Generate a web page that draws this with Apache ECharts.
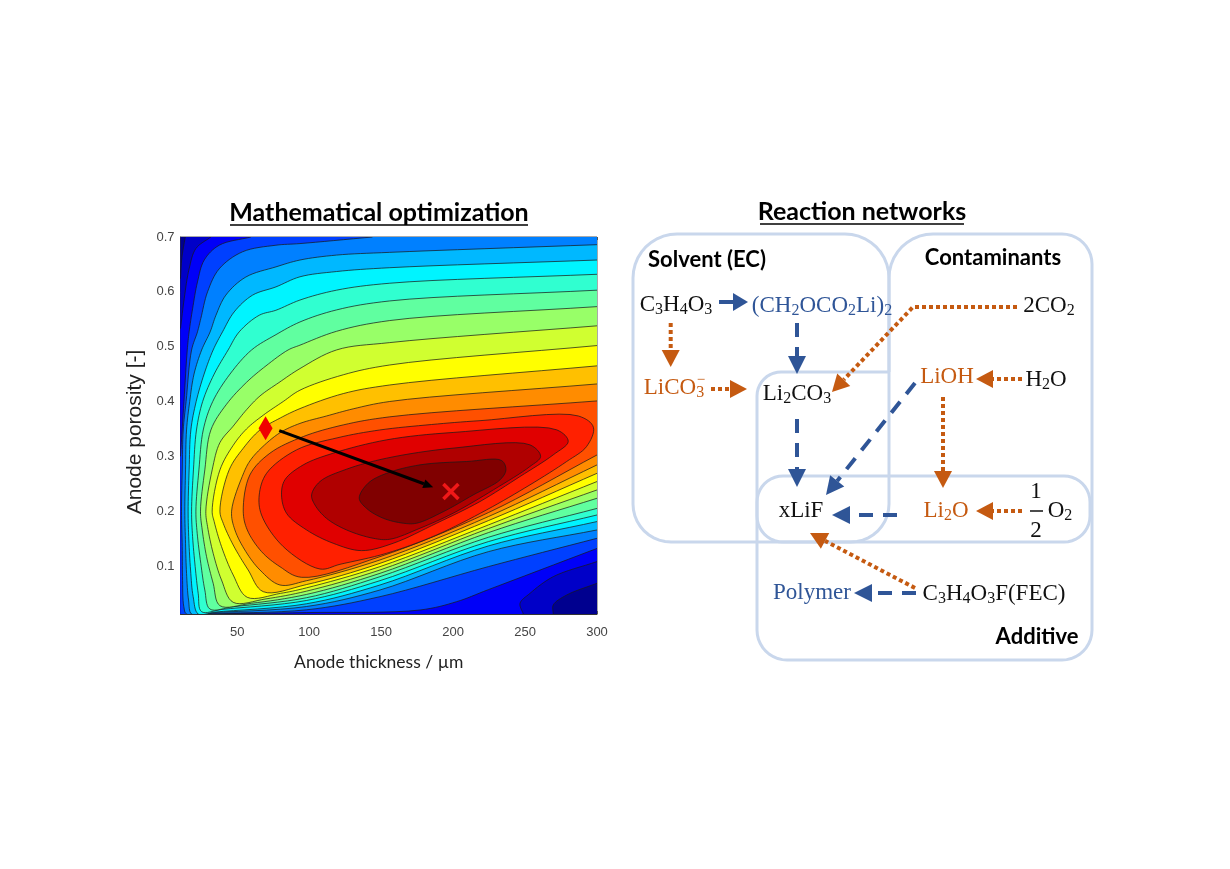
<!DOCTYPE html>
<html><head><meta charset="utf-8">
<style>html,body{margin:0;padding:0;background:#fff}#c{width:1230px;height:869px}</style>
<script src="https://cdn.jsdelivr.net/npm/echarts@6/dist/echarts.min.js"></script>
</head><body><div id="c"></div>
<script>
// ---------- contour plot data: anode thickness (um), anode porosity (-) ----------
const xMin = 10.6, xMax = 300, yMin = 0.0124, yMax = 0.7;
const xTicks = [50, 100, 150, 200, 250, 300];
const yTicks = [0.1, 0.2, 0.3, 0.4, 0.5, 0.6, 0.7];
const bandColors = ['#00008f','#0000c8','#0000f8','#0040ff','#0080ff','#00b8ff','#00f4ff','#30ffd0','#60ffa0','#98ff68','#d0ff30','#ffff00','#ffc000','#ff8c00','#ff5000','#ff2000','#e00000','#b00000','#800000'];

const lev1Low = [[269.6,.0124],[269.6,.0288],[278.9,.047],[300,.0684]];
const lev1Top = [[13.9,.7],[11.5,.661],[10.6,.624]];
const lev2Low = [[248.8,.0124],[246.5,.0318],[253.4,.05],[269.6,.0805],[300,.108]];
const lev2Top = [[31.7,.7],[21.3,.679],[16.6,.642],[13.2,.588],[10.6,.533]];
const lev3Low = [[20,.0124],[98,.015],[177,.0197],[202.5,.0349],[224.5,.0568],[300,.132]];
const lev3Top = [[59.5,.7],[37.5,.685],[27.1,.658],[22.4,.618],[19,.569],[16.6,.527],[15.3,.494],[13,.4],[10.6,.3]];
const lev4 = [[144,.7],[93.6,.688],[76.9,.685],[53.7,.673],[37.5,.642],[29.4,.6],[24.7,.551],[22.4,.527],[18.3,.494],[14.5,.4],[12.5,.348],[11.8,.275],[11.3,.2],[11.8,.1353],[12,.0805],[12.9,.0258],[14.8,.0124],[30,.0135],[98,.02],[149.2,.044],[224.5,.0988],[300,.1505]];
const lev5 = [[300,.686],[156,.672],[119,.667],[93.6,.658],[76.9,.6455],[56,.627],[42.1,.594],[35.2,.557],[31.2,.527],[25.3,.494],[20,.45],[17,.4],[14.8,.348],[14.1,.2752],[13.6,.2],[14.1,.1414],[14.8,.0866],[16.2,.0379],[18.3,.0124],[28.7,.0145],[98,.026],[149.2,.0562],[224.5,.1261],[300,.1657]];
const lev6 = [[300,.658],[156,.644],[119,.637],[93.6,.6274],[76.9,.609],[60.7,.594],[47.9,.5634],[39.8,.527],[33.3,.494],[27,.45],[21.5,.4],[17.8,.348],[16.6,.2752],[15.9,.2],[16.4,.1474],[17.6,.0927],[19.4,.044],[22.9,.0124],[35,.016],[98,.031],[149.2,.0653],[224.5,.1365],[300,.181]];
const lev7 = [[300,.632],[156,.6157],[119,.603],[93.6,.585],[76.9,.5664],[65.3,.5573],[51.4,.527],[43.7,.494],[34,.45],[26,.4],[21.7,.348],[19.6,.2752],[18.3,.2],[19,.1535],[20.8,.0988],[22.9,.0501],[25.2,.0167],[40,.021],[98,.037],[149.2,.0732],[224.5,.1444],[300,.193]];
const lev8 = [[300,.603],[156,.5834],[119,.567],[93.6,.545],[77,.522],[60,.494],[45,.45],[33,.4],[26.4,.348],[23.4,.2752],[21.3,.2],[22.2,.1596],[24.7,.1048],[27.5,.0562],[31,.0215],[48,.026],[98,.042],[149.2,.0805],[224.5,.1523],[300,.205]];
const lev9 = [[300,.573],[156,.5476],[119,.528],[93.6,.5027],[85.4,.494],[70,.465],[56.5,.435],[42.6,.395],[31.7,.348],[27.5,.2752],[24.5,.2],[25.7,.1657],[28.7,.117],[33.3,.0684],[38,.0276],[60,.032],[98,.048],[149.2,.0866],[224.5,.1608],[300,.2235]];
const lev10 = [[300,.538],[156,.5074],[119,.494],[93.6,.46],[79,.4345],[65.8,.41],[56.5,.385],[47.2,.355],[38,.325],[32.6,.2752],[28.2,.2],[29.4,.1718],[33.3,.1231],[39.1,.0744],[47.2,.0337],[70,.04],[98,.054],[149.2,.0927],[224.5,.1681],[300,.2387]];
const lev11 = [[300,.502],[156,.4666],[123.7,.4487],[93.6,.4206],[82,.4],[68.1,.375],[56.5,.35],[47.2,.32],[38,.2752],[32.6,.2],[34,.1809],[39.1,.1353],[47.2,.0836],[57,.0428],[80,.05],[98,.06],[149.2,.0988],[224.5,.1748],[300,.254]];
const lev12 = [[300,.465],[156,.4301],[123.7,.4144],[93.6,.387],[80,.37],[65.8,.348],[54.2,.3147],[44.4,.2752],[38,.2],[40.3,.1778],[47.2,.1383],[57.6,.0927],[68.1,.0531],[98,.066],[149.2,.1048],[224.5,.1827],[300,.269]];
const lev13 = [[300,.432],[156,.4],[130.6,.3866],[112,.3735],[93.6,.36],[79.7,.343],[65.8,.3127],[58.8,.2914],[54.6,.2702],[46.1,.2],[48.4,.1657],[56,.1262],[65.8,.0927],[79.7,.0653],[98,.073],[149.2,.111],[224.5,.19],[300,.2843]];
const lev14 = [[300,.401],[156,.372],[123.7,.3573],[95.9,.336],[72.7,.3056],[58.8,.266],[54.2,.2],[57,.1657],[66.9,.1262],[79.7,.0987],[94.7,.0793],[149.2,.117],[224.5,.1973],[300,.3025]];
const lev15 = [[65.3,.2295],[70.4,.269],[91.2,.3117],[120,.334],[149,.348],[185,.358],[218.7,.365],[287,.3736],[297.5,.353],[292.8,.318],[278.9,.2905],[253.4,.2479],[223.3,.2023],[188.6,.1566],[153.8,.1231],[121.4,.103],[107.5,.0945],[82,.1353],[66.9,.193]];
const lev16 = [[80.8,.2296],[83.1,.257],[95.9,.2844],[116.7,.3057],[153.8,.33],[200,.3435],[272,.3483],[280,.327],[269.6,.3027],[246.5,.2631],[218.7,.2175],[188.6,.178],[158.4,.1414],[136.4,.128],[116.7,.1414],[98.2,.1657],[84.3,.196]];
const lev17 = [[101.7,.2296],[107.5,.254],[126,.2765],[153.8,.2966],[200,.3149],[253.4,.3209],[260.8,.2996],[253.4,.2814],[228,.2388],[200,.1962],[177,.1688],[156,.1487],[144.5,.1505],[126,.1657],[112,.187],[104,.2114]];
const lev18 = [[134.8,.2236],[141,.251],[153.8,.269],[177,.2844],[209.4,.2905],[233.7,.2923],[236.7,.2753],[232.6,.257],[214,.2296],[193.2,.199],[174.7,.178],[165.4,.178],[151.5,.187],[139.9,.205]];
const startPoint = [69.7, 0.351];
const optimumPoint = [198.5, 0.236];
const arrowFrom = [79.2, 0.347];
const arrowTo = [186.2, 0.2436];

const TR=[xMax,yMax], TL=[xMin,yMax], BL=[xMin,yMin], BR=[xMax,yMin];
// each level: list of curves (stroked) and plot corners used to close the filled region
const levels = [
  {parts:[{corner:[BL,BR,TR,TL]}]},
  {parts:[{curve:lev1Low},{corner:[TR]},{curve:lev1Top},{corner:[BL]}]},
  {parts:[{curve:lev2Low},{corner:[TR]},{curve:lev2Top},{corner:[BL]}]},
  {parts:[{curve:lev3Low},{corner:[TR]},{curve:lev3Top},{corner:[BL]}]},
  {parts:[{curve:lev4},{corner:[TR]}]},
  {parts:[{curve:lev5}]},{parts:[{curve:lev6}]},{parts:[{curve:lev7}]},{parts:[{curve:lev8}]},
  {parts:[{curve:lev9}]},{parts:[{curve:lev10}]},{parts:[{curve:lev11}]},{parts:[{curve:lev12}]},
  {parts:[{curve:lev13}]},{parts:[{curve:lev14}]},
  {parts:[{curve:lev15,closed:true}]},{parts:[{curve:lev16,closed:true}]},
  {parts:[{curve:lev17,closed:true}]},{parts:[{curve:lev18,closed:true}]}
];

// ---------- reaction network (schematic units) ----------
const BLUE='#2F5597', ORANGE='#C55A11', BLACK='#111', BOX='#C9D7EC';
const boxSolvent = {v:[[633,234],[889,234],[889,542],[633,542]], r:[44,44,38,38], closed:true};
const boxRow = {v:[[757,476],[1090,476],[1090,542],[757,542]], r:[26,26,26,26], closed:true};
const boxContaminants = {v:[[889,372],[889,234],[1092,234],[1092,620]], r:[0,44,30,0]};
const boxAdditive = {v:[[889,372],[757,372],[757,660],[1092,660],[1092,620]], r:[0,24,30,30,0]};
const boxes = [boxSolvent, boxRow, boxContaminants, boxAdditive];

const solidArrows = [[[719,302],[748,302]]];
const dashedArrows = [
  [[797,323],[797,374]], [[915,383],[826,495]], [[797,419],[797,487]],
  [[897,515],[832,515]], [[916,593],[854,593]]
];
const dottedArrows = [
  [[670.7,323],[670.7,367]], [[711,389],[747,389]], [[1017,307],[913,307],[832,392]],
  [[1022,379],[976,379]], [[943,397],[943,488]], [[1022,511],[976,511]], [[915,588],[810,533]]
];
const chemLabels = [
  ['C{s|3}H{s|4}O{s|3}',676,305,BLACK],
  ['(CH{s|2}OCO{s|2}Li){s|2}',822,306,BLUE],
  ['2CO{s|2}',1049,306,BLACK],
  ['LiCO{s|3}',674,388,ORANGE],
  ['Li{s|2}CO{s|3}',797,394,BLACK],
  ['LiOH',947,377,ORANGE],
  ['H{s|2}O',1046,380,BLACK],
  ['xLiF',801,511,BLACK],
  ['Li{s|2}O',946,511,ORANGE],
  ['O{s|2}',1060,511,BLACK],
  ['1',1036,492,BLACK],
  ['2',1036,531,BLACK],
  ['Polymer',812,593,BLUE],
  ['C{s|3}H{s|4}O{s|3}F(FEC)',994,594,BLACK]
];
const minusSign = ['−',701,380,ORANGE];
const fractionBar = [[1030,511],[1043,511]];
const groupLabels = [
  ['Solvent (EC)',707,260],
  ['Contaminants',993,258],
  ['Additive',1037,637]
];
const panelTitles = [
  ['Mathematical optimization',379,213,[230,528]],
  ['Reaction networks',862,212,[760,964]]
];

// ---------- helpers ----------
function crSample(P, closed, n){
  const N=P.length, out=[];
  const at=i=> closed? P[(i+N)%N] : P[Math.max(0,Math.min(N-1,i))];
  const d=(a,b)=>Math.max(1e-3,Math.pow(Math.hypot(a[0]-b[0],a[1]-b[1]),0.5));
  const segs=closed?N:N-1;
  for(let i=0;i<segs;i++){
    let p0=at(i-1),p1=at(i),p2=at(i+1),p3=at(i+2);
    if(!closed&&i===0)p0=[2*p1[0]-p2[0],2*p1[1]-p2[1]];
    if(!closed&&i===segs-1)p3=[2*p2[0]-p1[0],2*p2[1]-p1[1]];
    const t0=0,t1=t0+d(p0,p1),t2=t1+d(p1,p2),t3=t2+d(p2,p3);
    const lerp=(a,b,ta,tb,t)=>[(tb-t)/(tb-ta)*a[0]+(t-ta)/(tb-ta)*b[0],(tb-t)/(tb-ta)*a[1]+(t-ta)/(tb-ta)*b[1]];
    for(let k=0;k<n;k++){
      const t=t1+(t2-t1)*k/n;
      const A1=lerp(p0,p1,t0,t1,t),A2=lerp(p1,p2,t1,t2,t),A3=lerp(p2,p3,t2,t3,t);
      const B1=lerp(A1,A2,t0,t2,t),B2=lerp(A2,A3,t1,t3,t);
      out.push(lerp(B1,B2,t1,t2,t));
    }
  }
  if(!closed)out.push(P[N-1]);
  return out;
}
function roundedPath(box){
  const V=box.v,n=V.length,out=[];
  for(let i=0;i<n;i++){
    const cur=V[i],r=box.r[i];
    const hasPrev=box.closed||i>0,hasNext=box.closed||i<n-1;
    if(!hasPrev||!hasNext||!r){out.push(cur);continue;}
    const pv=V[(i-1+n)%n],nx=V[(i+1)%n];
    const u=[pv[0]-cur[0],pv[1]-cur[1]],w=[nx[0]-cur[0],nx[1]-cur[1]];
    const lu=Math.hypot(u[0],u[1]),lw=Math.hypot(w[0],w[1]);
    for(let k=0;k<=10;k++){
      const a=k/10*Math.PI/2;
      const f=1-Math.sin(a),g=1-Math.cos(a);
      out.push([cur[0]+u[0]/lu*r*f+w[0]/lw*r*g,cur[1]+u[1]/lu*r*f+w[1]/lw*r*g]);
    }
  }
  if(box.closed)out.push(out[0]);
  return out;
}
function arrowEls(api,pts,color,width,dash,len,wid){
  const P=pts.map(p=>api.coord(p));
  const a=P[P.length-2],b=P[P.length-1];
  const L=Math.hypot(b[0]-a[0],b[1]-a[1]),ux=(b[0]-a[0])/L,uy=(b[1]-a[1])/L;
  const base=[b[0]-ux*len,b[1]-uy*len];
  const linePts=P.slice(0,-1).concat([base]);
  return [
    {type:'polyline',shape:{points:linePts},style:{stroke:color,lineWidth:width,lineDash:dash,fill:null}},
    {type:'polygon',shape:{points:[b,[base[0]-uy*wid/2,base[1]+ux*wid/2],[base[0]+uy*wid/2,base[1]-ux*wid/2]]},style:{fill:color}}
  ];
}
const SERIF='"Liberation Serif","DejaVu Serif",serif';
const SANS='Lato,"Open Sans",sans-serif';

const option = {
  animation:false,
  backgroundColor:'#fff',
  grid:[
    {left:180.5,top:237,width:416.5,height:377,show:true,borderColor:'#555',borderWidth:1,backgroundColor:'transparent'},
    {left:620,top:190,width:490,height:490,show:false}
  ],
  xAxis:[
    {gridIndex:0,type:'value',min:xMin,max:xMax,splitLine:{show:false},
     axisLine:{show:true,lineStyle:{color:'#333'}},
     axisTick:{inside:true,length:3,customValues:xTicks,lineStyle:{color:'#555'}},
     axisLabel:{customValues:xTicks,color:'#444',fontFamily:'"Liberation Sans",Arial,sans-serif',fontSize:13,margin:12},
     name:'Anode thickness / µm',nameLocation:'middle',nameGap:39,
     nameTextStyle:{fontFamily:SANS,fontSize:17.5,color:'#222',padding:[0,20,0,0]}},
    {gridIndex:0,type:'value',position:'top',min:xMin,max:xMax,splitLine:{show:false},axisLine:{show:false},
     axisTick:{inside:true,length:3,customValues:xTicks,lineStyle:{color:'#555'}},axisLabel:{show:false}},
    {gridIndex:1,type:'value',min:620,max:1110,show:false},
  ],
  yAxis:[
    {gridIndex:0,type:'value',min:yMin,max:yMax,splitLine:{show:false},
     axisLine:{show:true,lineStyle:{color:'#333'}},
     axisTick:{inside:true,length:3,customValues:yTicks,lineStyle:{color:'#555'}},
     axisLabel:{customValues:yTicks,color:'#444',fontFamily:'"Liberation Sans",Arial,sans-serif',fontSize:13,margin:6,
       formatter:v=>v.toFixed(1)},
     name:'Anode porosity [-]',nameLocation:'middle',nameGap:35,
     nameTextStyle:{fontFamily:'"Liberation Sans",Arial,sans-serif',fontSize:21,color:'#222',padding:[0,13,0,0]}},
    {gridIndex:0,type:'value',position:'right',min:yMin,max:yMax,splitLine:{show:false},axisLine:{show:false},
     axisTick:{inside:true,length:3,customValues:yTicks,lineStyle:{color:'#555'}},axisLabel:{show:false}},
    {gridIndex:1,type:'value',min:190,max:680,inverse:true,show:false},
  ],
  series:[
    {type:'custom',xAxisIndex:0,yAxisIndex:0,clip:true,silent:true,z:2,
     data:levels.map((_,i)=>[i]),encode:{x:-1,y:-1},
     renderItem(params,api){
       const lv=levels[params.dataIndex];
       let poly=[];const strokes=[];
       lv.parts.forEach(p=>{
         if(p.corner){poly=poly.concat(p.corner.map(c=>api.coord(c)));}
         else{
           const px=p.curve.map(c=>api.coord(c));
           const s=crSample(px,!!p.closed,8);
           poly=poly.concat(s);
           strokes.push({type:'polyline',shape:{points:p.closed?s.concat([s[0]]):s},
             style:{stroke:'rgba(25,25,25,0.72)',lineWidth:1,fill:null}});
         }
       });
       return {type:'group',children:[{type:'polygon',shape:{points:poly},style:{fill:bandColors[params.dataIndex]}}].concat(strokes)};
     }},
    {type:'custom',xAxisIndex:0,yAxisIndex:0,silent:true,z:4,data:[[0]],encode:{x:-1,y:-1},
     renderItem(params,api){
       return {type:'group',children:arrowEls(api,[arrowFrom,arrowTo],'#000',3,null,10,9)};
     }},
    {type:'scatter',xAxisIndex:0,yAxisIndex:0,z:5,silent:true,symbol:'diamond',symbolSize:[14,24],
     itemStyle:{color:'#f00000',opacity:1},data:[startPoint]},
    {type:'scatter',xAxisIndex:0,yAxisIndex:0,z:5,silent:true,symbol:'path://M0 0L10 10M10 0L0 10',symbolSize:15,
     itemStyle:{color:'transparent',borderColor:'#f01818',borderWidth:3.5,opacity:1},data:[optimumPoint]},
    // reaction network boxes
    {type:'custom',xAxisIndex:2,yAxisIndex:2,silent:true,z:2,clip:false,data:boxes.map((_,i)=>[i]),encode:{x:-1,y:-1},
     renderItem(params,api){
       const pts=roundedPath(boxes[params.dataIndex]).map(p=>api.coord(p));
       return {type:'polyline',shape:{points:pts},style:{stroke:BOX,lineWidth:3,fill:null}};
     }},
    // arrows
    {type:'custom',xAxisIndex:2,yAxisIndex:2,silent:true,z:3,clip:false,data:[[0]],encode:{x:-1,y:-1},
     renderItem(params,api){
       let ch=[];
       solidArrows.forEach(a=>{ch=ch.concat(arrowEls(api,a,BLUE,4,null,15,18));});
       dashedArrows.forEach(a=>{ch=ch.concat(arrowEls(api,a,BLUE,4,[14,10],18,18));});
       dottedArrows.forEach(a=>{ch=ch.concat(arrowEls(api,a,ORANGE,4,[4,3],17,18));});
       const bar=fractionBar.map(p=>api.coord(p));
       ch.push({type:'line',shape:{x1:bar[0][0],y1:bar[0][1],x2:bar[1][0],y2:bar[1][1]},style:{stroke:'#111',lineWidth:1.5}});
       return {type:'group',children:ch};
     }},
    // chemical labels
    {type:'custom',xAxisIndex:2,yAxisIndex:2,silent:true,z:6,clip:false,data:chemLabels.concat([minusSign]).map((_,i)=>[i]),encode:{x:-1,y:-1},
     renderItem(params,api){
       const all=chemLabels.concat([minusSign]);
       const t=all[params.dataIndex],p=api.coord([t[1],t[2]]);
       return {type:'text',x:p[0],y:p[1],style:{text:t[0],fill:t[3],fontFamily:SERIF,fontSize:t===minusSign?15:23,lineHeight:26,
         align:'center',verticalAlign:'middle',
         rich:{s:{fontFamily:SERIF,fontSize:16,lineHeight:14,verticalAlign:'bottom',fill:t[3]}}}};
     }},
    // group labels and panel titles
    {type:'custom',xAxisIndex:2,yAxisIndex:2,silent:true,z:6,clip:false,data:groupLabels.map((_,i)=>[i]),encode:{x:-1,y:-1},
     renderItem(params,api){
       const t=groupLabels[params.dataIndex],p=api.coord([t[1],t[2]]);
       return {type:'text',x:p[0],y:p[1],style:{text:t[0],fill:'#000',fontFamily:SANS,fontWeight:'bold',fontSize:22,align:'center',verticalAlign:'middle'}};
     }},
    {type:'custom',xAxisIndex:2,yAxisIndex:2,silent:true,z:6,clip:false,data:panelTitles.map((_,i)=>[i]),encode:{x:-1,y:-1},
     renderItem(params,api){
       const t=panelTitles[params.dataIndex],p=api.coord([t[1],t[2]]);
       const a=api.coord([t[3][0],t[2]+12]),b=api.coord([t[3][1],t[2]+12]);
       return {type:'group',children:[
         {type:'text',x:p[0],y:p[1],style:{text:t[0],fill:'#000',fontFamily:SANS,fontWeight:'bold',fontSize:25,align:'center',verticalAlign:'middle'}},
         {type:'line',shape:{x1:a[0],y1:a[1],x2:b[0],y2:b[1]},style:{stroke:'#000',lineWidth:1.6}}
       ]};
     }}
  ]
};
echarts.init(document.getElementById('c'),null,{renderer:'canvas'}).setOption(option);
</script></body></html>
